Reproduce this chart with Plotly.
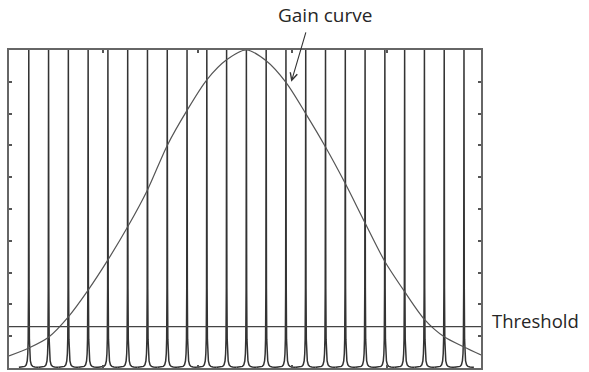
import plotly.graph_objects as go

# cavity mode numbers (x positions of the comb lines)
modes = list(range(1, 24))

# shape of one mode line: offset from centre -> height
mode_offsets = [-0.5, -0.3, -0.2, -0.13, -0.08, -0.05, -0.03, -0.015, 0.0,
                0.015, 0.03, 0.05, 0.08, 0.13, 0.2, 0.3, 0.5]
mode_heights = [0.002, 0.003, 0.005, 0.01, 0.022, 0.045, 0.09, 0.25, 1.0,
                0.25, 0.09, 0.045, 0.022, 0.01, 0.005, 0.003, 0.002]

# gain curve sampled at the mode positions (plus the two edges)
gain_x = [0, 1, 2, 3, 4, 5, 6, 7, 8, 9, 10, 11, 12, 13, 14, 15, 16, 17, 18,
          19, 20, 21, 22, 23, 23.86]
gain_y = [0.038, 0.063, 0.097, 0.161, 0.245, 0.34, 0.444, 0.56, 0.70, 0.81,
          0.906, 0.969, 1.0, 0.966, 0.898, 0.80, 0.695, 0.58, 0.456, 0.335,
          0.24, 0.153, 0.098, 0.066, 0.041]

threshold = 0.13
x_range = [0, 23.86]

# build the comb trace
comb_x, comb_y = [], []
for m in modes:
    comb_x += [m + o for o in mode_offsets] + [None]
    comb_y += mode_heights + [None]

fig = go.Figure()

fig.add_trace(go.Scatter(
    x=comb_x, y=comb_y, mode="lines",
    line=dict(color="#333333", width=1.5),
    hoverinfo="skip", showlegend=False,
))

fig.add_trace(go.Scatter(
    x=gain_x, y=gain_y, mode="lines",
    line=dict(color="#555555", width=1.2, shape="spline", smoothing=0.8),
    showlegend=False,
))

fig.add_trace(go.Scatter(
    x=x_range, y=[threshold, threshold], mode="lines",
    line=dict(color="#444444", width=1.3),
    showlegend=False,
))

# arrow + label for the gain curve
fig.add_annotation(
    x=14.27, y=0.90, xref="x", yref="y",
    ax=15, ay=-51, axref="pixel", ayref="pixel",
    text="", showarrow=True,
    arrowhead=5, arrowsize=1.3, arrowwidth=1.1, arrowcolor="#333333",
)
fig.add_annotation(
    x=0.669, y=1.11, xref="paper", yref="paper",
    text="Gain curve", showarrow=False,
    font=dict(family="Open Sans", size=19, color="#262626"),
    xanchor="center", yanchor="middle",
)
fig.add_annotation(
    x=1.019, y=threshold, xref="paper", yref="y",
    text="Threshold", showarrow=False, yshift=6,
    font=dict(family="Open Sans", size=18.5, color="#262626"),
    xanchor="left", yanchor="middle",
)

axis_style = dict(
    showgrid=False, zeroline=False, showticklabels=False,
    showline=True, linecolor="#666666", linewidth=1.5, mirror="allticks",
    ticks="inside", ticklen=3, tickcolor="#555555", tickwidth=1.5,
)

fig.update_xaxes(range=x_range, tick0=0, dtick=x_range[1] / 5, **axis_style)
fig.update_yaxes(range=[0, 1], tick0=0, dtick=0.1, **axis_style)

fig.update_layout(
    width=589, height=372,
    margin=dict(l=9, r=108, t=50, b=4),
    plot_bgcolor="white", paper_bgcolor="white",
)

# drop the browser's default body margin so the figure sits at the page corner
fig.write_html("out.html", config={"displayModeBar": False},
               post_script="document.body.style.margin='0';")
